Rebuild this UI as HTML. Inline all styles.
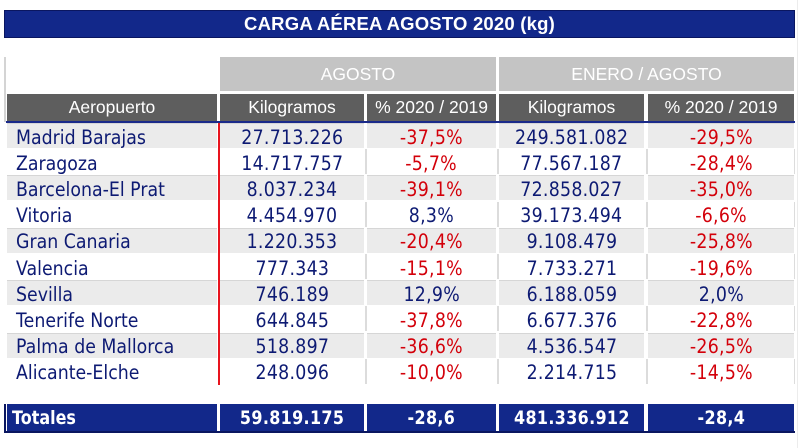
<!DOCTYPE html>
<html><head><meta charset="utf-8">
<style>
*{margin:0;padding:0;box-sizing:border-box}
body{width:800px;height:448px;background:#fff;position:relative;overflow:hidden;font-family:"DejaVu Sans",sans-serif}
.a{position:absolute}
.title{left:4px;top:10px;width:791px;height:28px;background:#12288a;border:1px solid #0a1660;color:#fff;font:bold 18.5px "Liberation Sans",sans-serif;display:flex;align-items:center;justify-content:center;letter-spacing:0.2px}
.h1{top:57px;height:34px;background:#c4c4c4;color:#fff;font:17.5px "Liberation Sans",sans-serif;display:flex;align-items:center;justify-content:center}
.h2{top:94px;height:27px;background:#5e5e5e;color:#fff;font:17.5px "Liberation Sans",sans-serif;display:flex;align-items:center;justify-content:center}
.c{display:flex;align-items:center;justify-content:center;font-size:19.5px;color:#0d1a73;letter-spacing:0.3px;padding-top:2px}
.c span{display:inline-block;transform:scaleX(0.89);white-space:nowrap}
.l{justify-content:flex-start;padding-left:9px;letter-spacing:0}
.l span{transform-origin:left center}
.r{color:#d3000a}
.g{background:#ebebeb;border-top:1px solid #d6d6d6}
.sep{background:#dcdcdc;width:2px}
.t{top:404px;height:27px;background:#12288a;color:#fff;font:bold 19px "DejaVu Sans",sans-serif;display:flex;align-items:center;justify-content:center;letter-spacing:0.4px}
.t span{display:inline-block;transform:scaleX(0.84);white-space:nowrap}
</style></head><body>
<div class="a title">CARGA AÉREA AGOSTO 2020 (kg)</div>

<div class="a" style="left:4px;top:57px;width:2px;height:65px;background:#d4d4d4"></div>
<div class="a" style="left:797px;top:0;width:1px;height:448px;background:#ececec"></div>

<div class="a h1" style="left:220px;width:276px">AGOSTO</div>
<div class="a h1" style="left:499px;width:295px">ENERO / AGOSTO</div>

<div class="a h2" style="left:7px;width:210px">Aeropuerto</div>
<div class="a h2" style="left:220px;width:144px">Kilogramos</div>
<div class="a h2" style="left:367px;width:129px">% 2020 / 2019</div>
<div class="a h2" style="left:499px;width:145px">Kilogramos</div>
<div class="a h2" style="left:648px;width:146px">% 2020 / 2019</div>
<div class="a" style="left:6px;top:121px;width:789px;height:2px;background:#1a2a8a"></div>

<div class="a" style="left:0;top:123px;width:800px;height:263px">
<div class="a g" style="left:7px;top:0;width:210px;height:25px"></div>
<div class="a g" style="left:220px;top:0;width:144px;height:25px"></div>
<div class="a g" style="left:367px;top:0;width:129px;height:25px"></div>
<div class="a g" style="left:499px;top:0;width:145px;height:25px"></div>
<div class="a g" style="left:648px;top:0;width:146px;height:25px"></div>

<div class="a g" style="left:7px;top:52.4px;width:210px;height:25px"></div>
<div class="a g" style="left:220px;top:52.4px;width:144px;height:25px"></div>
<div class="a g" style="left:367px;top:52.4px;width:129px;height:25px"></div>
<div class="a g" style="left:499px;top:52.4px;width:145px;height:25px"></div>
<div class="a g" style="left:648px;top:52.4px;width:146px;height:25px"></div>

<div class="a g" style="left:7px;top:104.8px;width:210px;height:25px"></div>
<div class="a g" style="left:220px;top:104.8px;width:144px;height:25px"></div>
<div class="a g" style="left:367px;top:104.8px;width:129px;height:25px"></div>
<div class="a g" style="left:499px;top:104.8px;width:145px;height:25px"></div>
<div class="a g" style="left:648px;top:104.8px;width:146px;height:25px"></div>

<div class="a g" style="left:7px;top:157.2px;width:210px;height:25px"></div>
<div class="a g" style="left:220px;top:157.2px;width:144px;height:25px"></div>
<div class="a g" style="left:367px;top:157.2px;width:129px;height:25px"></div>
<div class="a g" style="left:499px;top:157.2px;width:145px;height:25px"></div>
<div class="a g" style="left:648px;top:157.2px;width:146px;height:25px"></div>

<div class="a g" style="left:7px;top:209.6px;width:210px;height:25px"></div>
<div class="a g" style="left:220px;top:209.6px;width:144px;height:25px"></div>
<div class="a g" style="left:367px;top:209.6px;width:129px;height:25px"></div>
<div class="a g" style="left:499px;top:209.6px;width:145px;height:25px"></div>
<div class="a g" style="left:648px;top:209.6px;width:146px;height:25px"></div>

<div class="a sep" style="left:365px;top:26.2px;height:25px"></div>
<div class="a sep" style="left:497px;top:26.2px;height:25px"></div>
<div class="a sep" style="left:646px;top:26.2px;height:25px"></div>
<div class="a sep" style="left:794px;top:26.2px;height:25px;width:1px"></div>
<div class="a sep" style="left:365px;top:78.6px;height:25px"></div>
<div class="a sep" style="left:497px;top:78.6px;height:25px"></div>
<div class="a sep" style="left:646px;top:78.6px;height:25px"></div>
<div class="a sep" style="left:794px;top:78.6px;height:25px;width:1px"></div>
<div class="a sep" style="left:365px;top:131px;height:25px"></div>
<div class="a sep" style="left:497px;top:131px;height:25px"></div>
<div class="a sep" style="left:646px;top:131px;height:25px"></div>
<div class="a sep" style="left:794px;top:131px;height:25px;width:1px"></div>
<div class="a sep" style="left:365px;top:183.4px;height:25px"></div>
<div class="a sep" style="left:497px;top:183.4px;height:25px"></div>
<div class="a sep" style="left:646px;top:183.4px;height:25px"></div>
<div class="a sep" style="left:794px;top:183.4px;height:25px;width:1px"></div>
<div class="a sep" style="left:365px;top:235.8px;height:25px"></div>
<div class="a sep" style="left:497px;top:235.8px;height:25px"></div>
<div class="a sep" style="left:646px;top:235.8px;height:25px"></div>
<div class="a sep" style="left:794px;top:235.8px;height:25px;width:1px"></div>

<div class="a" style="left:217.5px;top:0;width:2px;height:262px;background:#e8141e"></div>

<div class="a c l" style="left:7px;top:0;width:210px;height:26px"><span>Madrid Barajas</span></div>
<div class="a c" style="left:220px;top:0;width:144px;height:26px"><span>27.713.226</span></div>
<div class="a c r" style="left:367px;top:0;width:129px;height:26px"><span>-37,5%</span></div>
<div class="a c" style="left:499px;top:0;width:145px;height:26px"><span>249.581.082</span></div>
<div class="a c r" style="left:648px;top:0;width:146px;height:26px"><span>-29,5%</span></div>

<div class="a c l" style="left:7px;top:26.2px;width:210px;height:26px"><span>Zaragoza</span></div>
<div class="a c" style="left:220px;top:26.2px;width:144px;height:26px"><span>14.717.757</span></div>
<div class="a c r" style="left:367px;top:26.2px;width:129px;height:26px"><span>-5,7%</span></div>
<div class="a c" style="left:499px;top:26.2px;width:145px;height:26px"><span>77.567.187</span></div>
<div class="a c r" style="left:648px;top:26.2px;width:146px;height:26px"><span>-28,4%</span></div>

<div class="a c l" style="left:7px;top:52.4px;width:210px;height:26px"><span>Barcelona-El Prat</span></div>
<div class="a c" style="left:220px;top:52.4px;width:144px;height:26px"><span>8.037.234</span></div>
<div class="a c r" style="left:367px;top:52.4px;width:129px;height:26px"><span>-39,1%</span></div>
<div class="a c" style="left:499px;top:52.4px;width:145px;height:26px"><span>72.858.027</span></div>
<div class="a c r" style="left:648px;top:52.4px;width:146px;height:26px"><span>-35,0%</span></div>

<div class="a c l" style="left:7px;top:78.6px;width:210px;height:26px"><span>Vitoria</span></div>
<div class="a c" style="left:220px;top:78.6px;width:144px;height:26px"><span>4.454.970</span></div>
<div class="a c" style="left:367px;top:78.6px;width:129px;height:26px"><span>8,3%</span></div>
<div class="a c" style="left:499px;top:78.6px;width:145px;height:26px"><span>39.173.494</span></div>
<div class="a c r" style="left:648px;top:78.6px;width:146px;height:26px"><span>-6,6%</span></div>

<div class="a c l" style="left:7px;top:104.8px;width:210px;height:26px"><span>Gran Canaria</span></div>
<div class="a c" style="left:220px;top:104.8px;width:144px;height:26px"><span>1.220.353</span></div>
<div class="a c r" style="left:367px;top:104.8px;width:129px;height:26px"><span>-20,4%</span></div>
<div class="a c" style="left:499px;top:104.8px;width:145px;height:26px"><span>9.108.479</span></div>
<div class="a c r" style="left:648px;top:104.8px;width:146px;height:26px"><span>-25,8%</span></div>

<div class="a c l" style="left:7px;top:131px;width:210px;height:26px"><span>Valencia</span></div>
<div class="a c" style="left:220px;top:131px;width:144px;height:26px"><span>777.343</span></div>
<div class="a c r" style="left:367px;top:131px;width:129px;height:26px"><span>-15,1%</span></div>
<div class="a c" style="left:499px;top:131px;width:145px;height:26px"><span>7.733.271</span></div>
<div class="a c r" style="left:648px;top:131px;width:146px;height:26px"><span>-19,6%</span></div>

<div class="a c l" style="left:7px;top:157.2px;width:210px;height:26px"><span>Sevilla</span></div>
<div class="a c" style="left:220px;top:157.2px;width:144px;height:26px"><span>746.189</span></div>
<div class="a c" style="left:367px;top:157.2px;width:129px;height:26px"><span>12,9%</span></div>
<div class="a c" style="left:499px;top:157.2px;width:145px;height:26px"><span>6.188.059</span></div>
<div class="a c" style="left:648px;top:157.2px;width:146px;height:26px"><span>2,0%</span></div>

<div class="a c l" style="left:7px;top:183.4px;width:210px;height:26px"><span>Tenerife Norte</span></div>
<div class="a c" style="left:220px;top:183.4px;width:144px;height:26px"><span>644.845</span></div>
<div class="a c r" style="left:367px;top:183.4px;width:129px;height:26px"><span>-37,8%</span></div>
<div class="a c" style="left:499px;top:183.4px;width:145px;height:26px"><span>6.677.376</span></div>
<div class="a c r" style="left:648px;top:183.4px;width:146px;height:26px"><span>-22,8%</span></div>

<div class="a c l" style="left:7px;top:209.6px;width:210px;height:26px"><span>Palma de Mallorca</span></div>
<div class="a c" style="left:220px;top:209.6px;width:144px;height:26px"><span>518.897</span></div>
<div class="a c r" style="left:367px;top:209.6px;width:129px;height:26px"><span>-36,6%</span></div>
<div class="a c" style="left:499px;top:209.6px;width:145px;height:26px"><span>4.536.547</span></div>
<div class="a c r" style="left:648px;top:209.6px;width:146px;height:26px"><span>-26,5%</span></div>

<div class="a c l" style="left:7px;top:235.8px;width:210px;height:26px"><span>Alicante-Elche</span></div>
<div class="a c" style="left:220px;top:235.8px;width:144px;height:26px"><span>248.096</span></div>
<div class="a c r" style="left:367px;top:235.8px;width:129px;height:26px"><span>-10,0%</span></div>
<div class="a c" style="left:499px;top:235.8px;width:145px;height:26px"><span>2.214.715</span></div>
<div class="a c r" style="left:648px;top:235.8px;width:146px;height:26px"><span>-14,5%</span></div>
</div>

<div class="a" style="left:4px;top:404px;width:2px;height:28px;background:#0a1660"></div>
<div class="a t" style="left:7px;width:210px;justify-content:flex-start;padding-left:5px;letter-spacing:0"><span style="transform-origin:left center">Totales</span></div>
<div class="a t" style="left:220px;width:144px"><span>59.819.175</span></div>
<div class="a t" style="left:367px;width:129px"><span>-28,6</span></div>
<div class="a t" style="left:499px;width:145px"><span>481.336.912</span></div>
<div class="a t" style="left:648px;width:146px"><span>-28,4</span></div>
<div class="a" style="left:4px;top:431px;width:791px;height:2px;background:#0a1660"></div>
</body></html>
